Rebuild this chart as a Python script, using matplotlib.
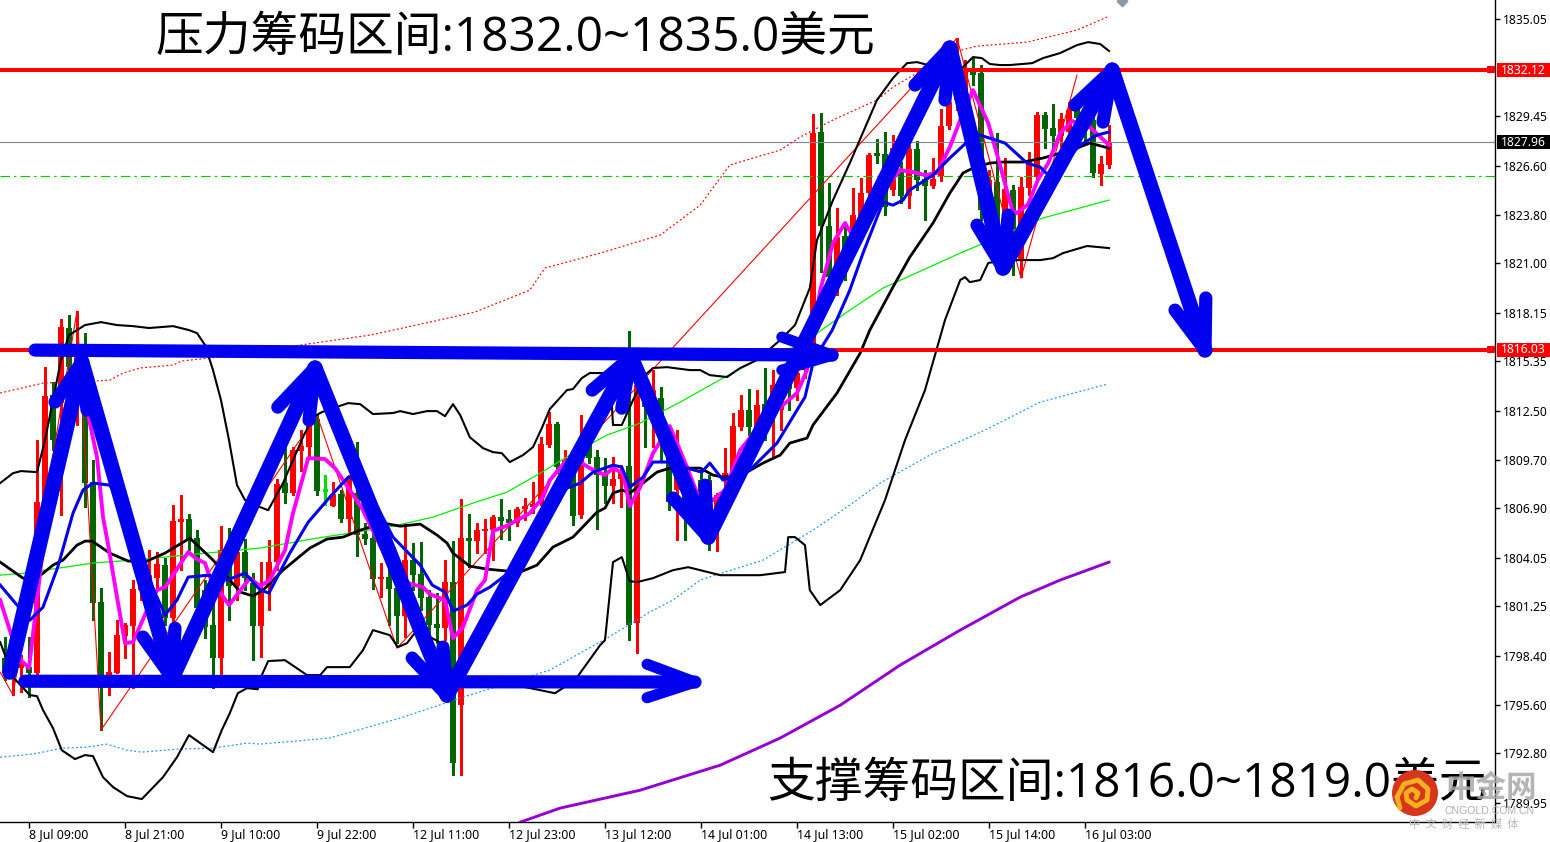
import matplotlib
matplotlib.use("Agg")
import matplotlib.pyplot as plt
from matplotlib.patches import Circle, Rectangle
from matplotlib.lines import Line2D
from matplotlib.transforms import IdentityTransform, blended_transform_factory

# ---------- candle data ----------
opens = [1798.28,1797.30,1797.70,1797.76,1797.42,1807.37,1813.41,1812.95,1817.27,1815.14,1814.85,1808.41,1801.50,1796.61,1797.42,1799.54,1800.12,1802.19,1802.36,1802.88,
1803.63,1800.58,1806.10,1806.28,1805.18,1802.19,1800.18,1798.28,1803.75,1802.42,1804.38,1802.59,1800.12,1802.31,1803.80,1808.35,1807.77,1810.19,1810.42,1812.03,
1807.95,1807.02,1807.72,1806.28,1807.77,1805.41,1805.18,1802.82,1802.94,1802.31,1800.70,1803.92,1803.11,1801.79,1800.23,1800.00,1802.65,1795.57,1805.18,1805.01,
1805.59,1805.64,1806.39,1806.28,1806.05,1806.85,1806.97,1807.20,1810.53,1811.74,1809.27,1809.10,1806.51,1810.53,1809.84,1808.81,1808.18,1808.58,1809.33,1800.29,
1813.70,1813.12,1813.24,1810.82,1807.95,1807.95,1807.37,1808.52,1808.52,1806.22,1808.52,1808.92,1811.57,1812.55,1811.57,1812.89,1812.15,1812.55,1813.99,1813.81,
1814.85,1816.29,1828.55,1823.14,1819.86,1822.56,1822.16,1823.71,1825.03,1827.34,1827.28,1825.21,1826.24,1824.86,1827.57,1825.84,1825.44,1826.00,1828.89,1830.39,
1830.96,1832.23,1831.94,1824.06,1825.67,1822.62,1825.21,1821.18,1825.32,1825.96,1829.52,1828.77,1828.31,1828.54,1829.98,1829.35,1829.23,1826.12,1826.65]
highs = [1799.49,1798.45,1798.45,1799.49,1810.82,1815.02,1814.16,1817.78,1818.00,1818.24,1816.98,1809.67,1802.31,1798.62,1800.46,1800.29,1802.77,1803.00,1804.49,1804.38,
1804.03,1807.08,1807.66,1806.56,1805.64,1802.77,1801.62,1805.87,1805.76,1805.07,1805.13,1803.17,1803.80,1805.07,1808.58,1810.42,1810.42,1811.40,1811.97,1812.26,
1808.81,1808.41,1807.95,1808.81,1810.71,1806.05,1805.64,1803.75,1803.34,1802.77,1806.05,1804.90,1804.95,1802.19,1802.02,1803.92,1805.01,1807.43,1806.56,1806.05,
1806.28,1806.51,1807.43,1806.79,1806.97,1807.49,1808.41,1810.99,1812.43,1811.86,1810.25,1809.56,1812.26,1810.99,1810.25,1809.79,1809.84,1809.38,1817.09,1814.27,
1814.56,1814.85,1813.87,1811.69,1811.40,1808.52,1807.95,1809.10,1808.81,1807.77,1810.36,1812.38,1813.41,1813.76,1813.70,1814.97,1814.85,1814.27,1814.85,1815.43,
1816.86,1829.58,1829.64,1825.61,1824.17,1823.37,1825.32,1825.90,1827.34,1828.14,1828.54,1828.37,1826.82,1827.80,1828.03,1826.36,1827.05,1829.87,1830.79,1833.95,
1832.69,1832.86,1832.40,1826.36,1828.49,1827.05,1825.50,1825.96,1827.39,1829.70,1829.70,1830.16,1829.64,1830.27,1830.27,1830.10,1829.81,1827.16,1828.95]
lows = [1797.01,1796.15,1796.32,1796.04,1797.01,1806.22,1810.25,1806.51,1814.27,1811.69,1806.97,1800.46,1794.14,1796.15,1797.42,1798.28,1796.55,1801.62,1801.90,1802.19,
1800.18,1800.18,1803.34,1804.49,1800.75,1799.43,1796.55,1797.30,1800.46,1801.62,1802.19,1798.16,1798.34,1801.04,1803.34,1807.20,1807.66,1809.04,1809.84,1807.66,
1807.08,1807.02,1806.10,1805.47,1804.15,1804.84,1802.25,1801.79,1800.18,1799.14,1799.49,1802.19,1801.04,1799.31,1799.14,1799.31,1791.55,1791.55,1803.52,1804.32,
1804.32,1803.92,1805.13,1805.07,1805.87,1806.22,1806.62,1807.08,1810.42,1808.92,1809.10,1805.93,1806.33,1809.50,1805.70,1807.20,1807.20,1806.97,1799.31,1798.57,
1810.42,1810.42,1809.67,1806.79,1805.07,1805.07,1805.93,1805.36,1804.49,1804.44,1807.95,1808.52,1811.40,1811.11,1811.40,1810.82,1809.84,1811.40,1812.55,1813.12,
1814.39,1816.00,1820.49,1819.45,1819.17,1820.03,1821.75,1823.37,1824.92,1826.76,1823.77,1824.92,1824.46,1824.17,1825.21,1823.48,1825.32,1825.73,1828.72,1829.81,
1830.67,1831.25,1823.48,1823.77,1822.62,1822.33,1820.32,1820.20,1824.92,1825.78,1827.62,1827.68,1827.68,1828.08,1828.37,1828.08,1825.96,1825.50,1826.47]
closes = [1797.42,1798.05,1797.93,1797.42,1807.25,1813.35,1810.82,1817.32,1815.02,1816.29,1808.35,1801.44,1796.61,1797.47,1799.60,1800.18,1802.25,1802.36,1803.05,1803.69,
1800.58,1806.16,1806.28,1805.13,1801.16,1800.06,1798.28,1804.49,1802.42,1804.38,1802.88,1800.12,1802.02,1803.80,1808.29,1807.77,1810.25,1810.48,1811.80,1807.89,
1807.95,1807.72,1806.28,1808.58,1805.36,1805.13,1802.82,1802.94,1802.25,1800.70,1803.92,1803.05,1801.73,1800.18,1800.00,1802.65,1792.24,1805.18,1805.01,1805.64,
1805.70,1806.39,1806.16,1806.05,1806.85,1807.02,1807.14,1810.59,1811.74,1809.27,1809.67,1806.45,1809.96,1809.79,1808.81,1808.18,1808.58,1808.98,1800.18,1813.99,
1812.72,1813.70,1810.53,1807.25,1810.25,1807.08,1806.79,1806.79,1806.79,1807.66,1808.92,1811.63,1812.55,1811.57,1812.84,1811.40,1813.99,1813.24,1813.76,1814.68,
1816.00,1828.49,1823.14,1820.20,1822.50,1821.01,1823.77,1825.03,1827.22,1827.16,1824.23,1827.62,1824.86,1827.57,1825.78,1825.44,1825.84,1828.89,1830.27,1832.11,
1832.23,1831.82,1824.06,1825.78,1823.19,1825.26,1821.75,1825.38,1826.93,1829.52,1828.72,1828.31,1829.29,1829.81,1829.35,1828.66,1826.19,1826.70,1827.96]

# ---------- indicator data: bar position, price ----------
upper_bars = [-0.6,1,2,4,5,6,7,8,9,10,12,14,16,18,21,23,24,25,26,27,28,29,30,31.6,32.9,34.75,36,37.25,38.5,39.6,41,42.9,44.4,46,48.5,49.4,51,52.75,54,55,56,56.9,58.1,59.75,61,62.1,63.1,64.75,66,67.1,68.1,70.25,71,72.1,73.1,74.75,75.75,76,77.1,78.5,80,81,82.75,85.6,86.9,88.1,90.25,91.9,94,96.9,98.75,100.6,101.5,103.5,105.6,107.75,109,111,112.75,114,115.4,117.5,119.75,121,122.1,123.1,124.4,125.6,128.4,129.75,131.9,134,135.4,136.9,138]
upper_vals = [1808.35,1808.92,1809.04,1808.98,1810.82,1813.12,1815.43,1816.86,1817.15,1817.44,1817.61,1817.44,1817.38,1817.27,1817.38,1817.15,1816.98,1816.29,1814.85,1813.12,1810.82,1808.23,1807.37,1807.02,1806.79,1808.35,1809.67,1810.99,1812.15,1812.43,1812.66,1812.95,1812.89,1812.32,1812.38,1812.49,1812.32,1812.49,1812.49,1812.20,1812.89,1812.26,1810.99,1810.36,1810.13,1810.07,1809.56,1809.96,1810.42,1811.51,1812.61,1813.70,1813.76,1814.39,1814.68,1814.68,1813.70,1811.69,1811.69,1813.12,1814.56,1814.97,1815.02,1814.85,1814.85,1814.56,1814.45,1814.97,1815.43,1816.58,1817.44,1819.57,1822.33,1824.63,1826.76,1829.06,1830.39,1831.65,1832.51,1832.57,1832.40,1832.00,1832.28,1832.86,1832.80,1832.46,1832.40,1832.40,1832.51,1832.80,1833.09,1833.55,1833.72,1833.61,1833.21]

mid_bars = [-0.6,2.25,4,6,7.25,9,10,10.9,13.1,15.4,17.75,20,23.1,26,29.4,31,32.25,34.75,38.1,40.25,42.25,44.4,47.25,49.4,51.9,54,55.25,56,58.1,60.25,62.75,64.4,66.5,68.5,71,74,75,76,77.1,78.1,79.75,81.5,83.1,86.9,88.5,89.75,92.75,94.75,96.9,98.1,100.25,101,104,106.9,108.1,111,113.1,116,118.1,119.75,121,123.1,124.75,127.25,129.75,131.5,134,135.6,138]
mid_vals = [1803.80,1802.88,1802.88,1803.63,1803.92,1804.78,1805.01,1805.01,1804.32,1803.86,1803.86,1804.32,1805.18,1803.92,1802.08,1801.85,1802.19,1803.34,1804.61,1805.13,1805.24,1805.64,1806.05,1805.87,1805.99,1805.36,1804.90,1804.32,1803.57,1803.40,1803.29,1803.23,1803.63,1804.67,1805.24,1806.68,1806.91,1807.77,1807.95,1807.77,1808.35,1808.98,1809.21,1809.21,1808.81,1808.69,1808.98,1809.50,1809.96,1810.65,1810.94,1811.69,1813.53,1815.83,1817.15,1819.63,1821.35,1823.31,1825.03,1826.19,1826.47,1826.76,1826.82,1826.82,1827.05,1827.28,1827.62,1827.91,1827.62]

lower_bars = [-0.6,1,3.1,4,4.75,6,7.1,8.75,10,11,12.25,13.5,15.25,17.1,19.75,21.5,23,24.4,26,27.1,28.1,29.1,30.25,31.6,32.1,32.9,35,37.75,39.4,40.25,43.1,44.75,46,48.1,49.1,50.25,51.5,55,56,59.4,64.4,68.75,71.25,74.4,75,76,77.1,78.1,79,81,83.5,85.4,86.9,89.4,94.4,97.5,97.9,98.75,100,100.6,101.9,104.4,106.9,110,112.5,115,117.5,119.4,120,120.6,121.9,122.9,124.75,129.4,131,132.25,135.25,138]
lower_vals = [1799.20,1797.19,1796.15,1796.09,1795.29,1794.25,1792.98,1792.47,1792.70,1792.64,1791.43,1790.86,1790.34,1790.17,1791.43,1792.58,1793.85,1793.39,1792.87,1794.14,1795.11,1796.26,1796.55,1796.49,1797.30,1798.11,1798.16,1797.30,1797.30,1797.76,1797.76,1798.74,1799.89,1799.60,1798.91,1799.14,1799.89,1799.03,1797.01,1796.84,1796.67,1796.26,1797.01,1799.03,1799.31,1803.80,1804.09,1802.71,1802.65,1802.88,1803.34,1803.51,1803.34,1803.05,1803.05,1803.23,1805.24,1805.24,1804.78,1802.19,1801.33,1802.19,1803.92,1807.37,1810.82,1813.70,1817.73,1820.03,1820.20,1819.91,1820.03,1821.01,1821.18,1821.18,1821.29,1821.58,1821.99,1821.87]

env_up_bars = [-0.6,4.75,11.25,13.1,14.75,16.9,21,22.1,26.5,36.9,45.6,53.1,58.75,65.6,67.5,74.4,81.9,86.9,90.6,96.9,99.4,103.5,109,111,114,118.1,121.5,127.75,134,137.75]
env_up_vals = [1813.53,1814.10,1814.22,1814.27,1814.68,1814.97,1815.14,1815.37,1815.60,1816.29,1816.86,1817.61,1818.19,1819.45,1820.72,1821.58,1822.62,1824.34,1826.65,1827.51,1828.26,1829.24,1830.39,1831.13,1831.94,1833.09,1833.49,1833.72,1834.41,1835.16]

env_dn_bars = [-0.6,3.5,7.25,10.25,12.75,15.25,17.1,21.5,26,30.25,31.9,40.6,49.4,56.9,68.1,75.25,80.6,83.5,86.9,94.75,101,105.25,109.4,115.6,122.5,129.4,137.75]
env_dn_vals = [1792.58,1792.76,1793.10,1793.16,1793.33,1792.98,1792.87,1793.04,1793.10,1793.39,1793.33,1793.68,1794.83,1795.98,1797.59,1799.43,1800.93,1801.62,1802.77,1803.92,1805.64,1806.97,1808.35,1809.96,1811.40,1813.01,1814.04]

ma_green_bars = [-0.6,2.5,11,16,31.9,39,43.1,48.5,53.5,58.5,62.75,66.9,71,75.25,79.4,84.4,89.75,94,99.4,105.6,109.75,119.4,129.75,138]
ma_green_vals = [1803.05,1803.17,1803.75,1803.92,1804.61,1805.18,1805.47,1805.87,1806.39,1807.20,1807.83,1808.92,1810.07,1811.11,1811.80,1813.01,1814.39,1815.43,1816.29,1818.30,1819.57,1821.58,1823.60,1824.63]

ma_purple_bars = [64.4,69.4,79.4,89.4,96.9,104.4,111.9,119.4,126.9,131.9,138]
ma_purple_vals = [1788.84,1789.65,1790.68,1792.12,1793.68,1795.57,1797.88,1799.89,1801.79,1802.77,1803.80]

ma_magenta_bars = [-0.6,1,2,3,4,5,7,9,10.4,11.5,12.25,12.9,14,15,16,17.75,19,20,22.9,24,25,25.6,28,30.6,31.9,33.1,35,36,37.9,40,41.25,43.1,44.6,47.5,50.4,52.25,53.1,55,56,57.25,59,60,61,62.9,65.6,67.25,68.1,70,71.9,73.1,75,76,77.25,78.1,79.4,81,83.1,85.25,86.5,88.5,90,91.9,94.4,96.5,99,100.25,101.9,103.5,105,105.9,108.1,111.9,113.5,115,116.5,118.1,119.4,121,122.9,124.1,125.9,126.5,127.9,129.1,130.4,131.9,133.4,135.6,138]
ma_magenta_vals = [1801.62,1799.31,1798.16,1797.70,1801.62,1805.64,1810.25,1813.70,1812.26,1809.84,1806.39,1804.78,1801.79,1799.14,1799.20,1801.04,1802.19,1802.36,1804.38,1803.97,1803.75,1802.94,1801.33,1802.88,1802.42,1802.77,1804.49,1806.62,1809.79,1809.73,1809.21,1807.95,1806.91,1804.20,1802.59,1802.36,1801.96,1801.62,1799.43,1800.06,1802.19,1802.77,1805.59,1805.93,1806.62,1807.54,1808.52,1809.56,1809.56,1809.21,1808.81,1809.21,1808.92,1807.02,1808.12,1810.07,1811.63,1809.27,1807.77,1807.37,1807.95,1810.25,1811.69,1812.55,1813.53,1814.85,1819.45,1822.16,1823.31,1822.62,1824.34,1826.36,1826.24,1826.07,1826.19,1827.68,1829.24,1830.96,1829.06,1827.11,1824.06,1823.88,1824.40,1825.78,1826.76,1828.49,1829.18,1828.83,1827.80]

ma_blue_bars = [-0.6,1.5,3.1,4.75,6.6,8.5,9.75,11,13.1,15,17.5,20,21.5,22.9,25.4,27.75,30,31.9,33,35.6,37.9,40.6,42.9,44.4,46.25,48.5,51.9,53.4,55,56,57.75,59,60.6,62.9,65.6,68.1,70.25,71.9,73.5,76,77.1,78.1,79.75,81,82.75,85.25,87.1,88.1,89.75,93.1,96.5,100,101,102.25,103.4,105.6,107.25,109.75,111,112.25,113.1,116,118.1,120.25,121.9,125,127.75,129.4,130.4,132.1,134.4,136.5,138]
ma_blue_vals = [1802.48,1801.33,1800.46,1801.21,1803.52,1806.62,1807.95,1808.35,1808.23,1806.79,1803.34,1800.75,1801.62,1802.94,1803.05,1802.77,1803.17,1802.19,1802.02,1804.32,1806.10,1807.54,1808.69,1808.52,1807.25,1805.24,1803.63,1802.48,1802.08,1800.98,1801.33,1801.96,1802.36,1803.17,1805.07,1806.80,1808.06,1808.35,1808.98,1809.38,1809.27,1808.12,1808.69,1809.56,1809.56,1809.21,1808.98,1809.50,1808.52,1809.10,1810.65,1813.30,1815.25,1816.29,1817.15,1819.45,1821.58,1824.52,1824.34,1824.63,1825.21,1826.07,1827.05,1827.97,1828.37,1827.91,1826.76,1826.53,1826.07,1826.65,1827.80,1828.37,1828.55]

zigzag_bars = [-0.6,1,9,12,39,49,119,127,134]
zigzag_vals = [1797.47,1796.15,1818.24,1794.14,1812.26,1798.85,1833.95,1820.14,1831.82]

# ---------- levels, labels ----------
resistance = 1832.12
support = 1816.03
last_price = 1827.96
dash_level = 1826.01
y_ticks = [1835.05,1829.45,1826.60,1823.80,1821.00,1818.15,1815.35,1812.50,1809.70,1806.90,1804.05,1801.25,1798.40,1795.60,1792.80,1789.95]
x_tick_bars = [3,15,27,39,51,63,75,87,99,111,123,135]
x_tick_labels = ["8 Jul 09:00","8 Jul 21:00","9 Jul 10:00","9 Jul 22:00","12 Jul 11:00","12 Jul 23:00","13 Jul 12:00","14 Jul 01:00","14 Jul 13:00","15 Jul 02:00","15 Jul 14:00","16 Jul 03:00"]
title_top = "压力筹码区间:1832.0~1835.0美元"
title_bottom = "支撑筹码区间:1816.0~1819.0美元"

# ---------- hand-drawn arrows ----------
path_bars = [0.6,9.6,20.9,38.75,55.25,78.25,87.9,118.1,124.75,138.4,150]
path_vals = [1797.47,1815.31,1797.13,1814.97,1796.15,1815.60,1805.24,1833.38,1820.72,1832.11,1816.00]
head_a_bars = [6.25,17.25,34.1,50.9,73.4,83.5,113.75,121.5,133.75,146.25]
head_a_vals = [1813.01,1799.49,1812.72,1798.28,1813.70,1807.49,1831.25,1823.19,1830.10,1818.30]
head_b_bars = [10.25,21.25,38,54.75,77.1,87.5,117.5,125.4,137.25,150.1]
head_b_vals = [1812.55,1800.00,1811.97,1798.91,1812.66,1808.23,1830.39,1823.77,1829.12,1819.00]
flat_top_bars = [3.75,103.4]
flat_top_vals = [1816.00,1815.71]
flat_top_head_bars = [97.1,97.1]
flat_top_head_vals = [1816.75,1814.85]
flat_low_bars = [2.5,86.25]
flat_low_vals = [1796.95,1796.90]
flat_low_head_bars = [80.25,80.25]
flat_low_head_vals = [1797.93,1796.00]

W, H = 1550, 842
fig = plt.figure(figsize=(W/100, H/100), dpi=100, facecolor="white")
ax = fig.add_axes([0, 20/H, 1495/W, 822/H])
ax.set_xlim(-0.625, 186.25)
ax.set_ylim(1788.85, 1836.143)
for s in ("left", "top"):
    ax.spines[s].set_visible(False)
for s in ("right", "bottom"):
    ax.spines[s].set_linewidth(1.0)

CJK = ["Noto Sans CJK SC", "DejaVu Sans"]
TITLEF = ["Open Sans", "Noto Sans CJK SC"]
TICKF = "Noto Sans"

# candles
RED, GREEN, LIME = "#ff0000", "#006400", "#00e000"
for i, (o, h, l, c) in enumerate(zip(opens, highs, lows, closes)):
    col = LIME if o == c else (RED if c > o else GREEN)
    ax.vlines(i, l, h, color=col, lw=0.85, zorder=2, antialiased=False)
    if o != c:
        ax.bar(i, abs(c - o), bottom=min(o, c), width=0.72, color=col, lw=0, zorder=2.1, antialiased=False)
    else:
        ax.hlines(o, i - 0.31, i + 0.31, color=col, lw=0.85, zorder=2.1, antialiased=False)

# indicators
ax.plot(ma_green_bars, ma_green_vals, color="#00ee00", lw=0.9, zorder=3)
ax.plot(zigzag_bars, zigzag_vals, color="#ff0000", lw=0.8, zorder=3)
ax.plot(env_up_bars, env_up_vals, color="#ff0000", lw=0.85, ls=(0, (1.6, 2.0)), zorder=3)
ax.plot(env_dn_bars, env_dn_vals, color="#1e90ff", lw=0.85, ls=(0, (1.6, 2.0)), zorder=3)
ax.plot(upper_bars, upper_vals, color="black", lw=1.5, zorder=3.1)
ax.plot(mid_bars, mid_vals, color="black", lw=2.0, zorder=3.1)
ax.plot(lower_bars, lower_vals, color="black", lw=1.5, zorder=3.1)
ax.plot(ma_purple_bars, ma_purple_vals, color="#9400d3", lw=2.1, zorder=3.2)
ax.plot(ma_magenta_bars, ma_magenta_vals, color="#ff00ff", lw=2.8, zorder=3.3)
ax.plot(ma_blue_bars, ma_blue_vals, color="#0000ee", lw=2.2, zorder=3.4)

# levels
ax.axhline(last_price, color="#808a90", lw=0.85, zorder=2.5)
ax.axhline(dash_level, color="#00c800", lw=0.85, ls=(0, (8, 3.5, 2, 3.5)), zorder=2.5)
for lv in (resistance, support):
    ax.axhline(lv, color="#ff0000", lw=2.9, zorder=4)

# right-hand ticks and tags
ax.yaxis.tick_right()
ax.set_yticks(y_ticks)
ax.set_yticklabels([f"{v:.2f}" for v in y_ticks], fontsize=8.7, family=TICKF)
ax.tick_params(axis="y", length=3.5, width=1, pad=2.5)
ax.set_xticks(x_tick_bars)
ax.set_xticklabels(x_tick_labels, fontsize=8.9, family=TICKF, ha="left")
ax.tick_params(axis="x", length=4, width=1, pad=0.5)

tr = blended_transform_factory(ax.transAxes, ax.transData)
for lv, fc in ((resistance, "#ff0000"), (support, "#ff0000"), (last_price, "#000000")):
    ax.add_patch(Rectangle((1.0015, lv - 0.40), 0.0365, 0.80, transform=tr, fc=fc, ec="none", clip_on=False, zorder=6))
    ax.text(1.0042, lv - 0.02, f"{lv:.2f}", transform=tr, color="white", fontsize=8.7, family=TICKF,
            va="center", ha="left", clip_on=False, zorder=7)
for lv in (resistance, support):
    ax.add_patch(Rectangle((0.9945, lv - 0.2), 0.0055, 0.4, transform=tr, fc="#ff0000", ec="none", zorder=4))

# titles
ax.text(155/1495, 1833.97, title_top, transform=tr, fontsize=34.4, family=TITLEF, color="black", va="center", ha="left", zorder=5)
ax.text(767/1495, 1791.05, title_bottom, transform=tr, fontsize=34.4, family=TITLEF, color="black", va="center", ha="left", zorder=5)

# hand-drawn blue arrows
BLUE = "#0000ee"
kw = dict(color=BLUE, solid_capstyle="round", solid_joinstyle="round", zorder=8, clip_on=False)
for k in range(len(path_bars) - 1):
    ax.plot(path_bars[k:k+2], path_vals[k:k+2], lw=11, **kw)
    ax.plot([head_a_bars[k], path_bars[k+1], head_b_bars[k]], [head_a_vals[k], path_vals[k+1], head_b_vals[k]], lw=9.5, **kw)
ax.plot(flat_top_bars, flat_top_vals, lw=9.5, **kw)
ax.plot([flat_top_head_bars[0], flat_top_bars[1], flat_top_head_bars[1]], [flat_top_head_vals[0], flat_top_vals[1], flat_top_head_vals[1]], lw=8, **kw)
ax.plot(flat_low_bars, flat_low_vals, lw=9.5, **kw)
ax.plot([flat_low_head_bars[0], flat_low_bars[1], flat_low_head_bars[1]], [flat_low_head_vals[0], flat_low_vals[1], flat_low_head_vals[1]], lw=8, **kw)

# small object marker at the top edge
ax.scatter([139.6], [1836.1], marker="D", s=28, color="#8a98a8", zorder=5, clip_on=True)

# watermark
idt = IdentityTransform()
fig.add_artist(Circle((1415, H - 793), 23, transform=idt, fc="#d5361c", ec="none", zorder=20))
fig.add_artist(Line2D([1400, 1397, 1404, 1418, 1428, 1427, 1416, 1407, 1406, 1412, 1418, 1416],
                      [H - 808, H - 797, H - 784, H - 780, H - 789, H - 800, H - 806, H - 800, H - 793, H - 789, H - 793, H - 798],
                      transform=idt, color="#f5b020", lw=3.5, solid_capstyle="round", zorder=21))
fig.text(1491/W, 1 - 788/H, "中金网", fontsize=22, fontweight="bold", family=CJK, color="#a8a8a8", alpha=0.85, ha="center", va="center", zorder=22)
fig.text(1490/W, 1 - 811/H, "CNGOLD.COM.CN", fontsize=7.6, family="Liberation Sans", color="#b0b0b0", ha="center", va="center", zorder=22)
fig.text(1464/W, 1 - 824/H, "中  文  财  经  新  媒  体", fontsize=8.2, family=CJK, color="#b8b8b8", ha="center", va="center", zorder=22)

fig.savefig("out.png", dpi=100, facecolor="white")
